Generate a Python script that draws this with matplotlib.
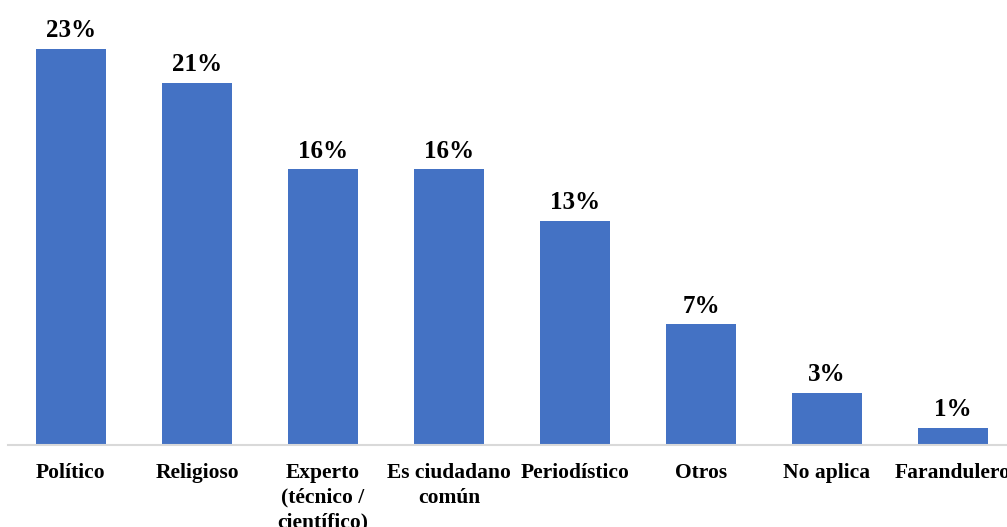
import matplotlib.pyplot as plt

categorias = ["Político", "Religioso", "Experto\n(técnico /\ncientífico)",
              "Es ciudadano\ncomún", "Periodístico", "Otros", "No aplica",
              "Farandulero"]
porcentajes = [23, 21, 16, 16, 13, 7, 3, 1]

plt.rcParams['font.family'] = ['Liberation Serif', 'DejaVu Serif']

fig = plt.figure(figsize=(10.07, 5.27), dpi=100)
ax = fig.add_axes([8 / 1007, 82 / 527, 1008 / 1007, 430.5 / 527])

x = range(len(categorias))
barras = ax.bar(x, porcentajes, width=0.556, color='#4472C4')
for b, v in zip(barras, porcentajes):
    ax.annotate(f"{v}%", (b.get_x() + b.get_width() / 2, v),
                xytext=(0, 5), textcoords='offset points',
                ha='center', va='bottom', fontsize=18, fontweight='bold')

ax.set_xlim(-0.5, len(categorias) - 0.5)
ax.set_ylim(0, 25)
ax.set_xticks(list(x))
ax.set_xticklabels(categorias, fontsize=15.5, fontweight='bold', linespacing=1.3)
ax.tick_params(axis='x', length=0, pad=13)
ax.set_yticks([])
for s in ['top', 'right', 'left']:
    ax.spines[s].set_visible(False)
ax.spines['bottom'].set_color('#D9D9D9')
ax.spines['bottom'].set_linewidth(1.5)

fig.savefig("out.png", dpi=100)
